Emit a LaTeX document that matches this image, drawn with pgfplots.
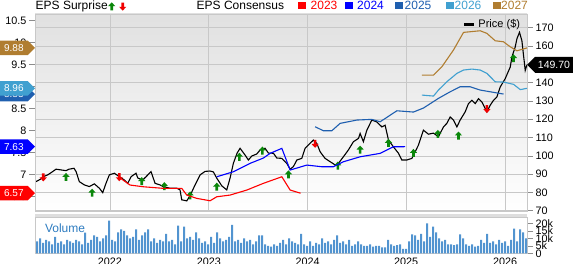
\documentclass[border=0pt]{standalone}
\usepackage{fontspec}
\setmainfont{Liberation Sans}
\usepackage{pgfplots}
\pgfplotsset{compat=1.18}
\usetikzlibrary{shapes.symbols}

\definecolor{c2023}{HTML}{FF0000}
\definecolor{c2024}{HTML}{0000FF}
\definecolor{c2025}{HTML}{1F5FAF}
\definecolor{c2026}{HTML}{40A0D0}
\definecolor{c2027}{HTML}{B07D30}
\definecolor{upg}{HTML}{0A870A}
\definecolor{dnr}{HTML}{F00000}
\definecolor{gridc}{HTML}{C8C8C8}
\definecolor{volc}{HTML}{5294D0}
\definecolor{vollab}{HTML}{2E7CC0}

\pgfdeclareplotmark{uparr}{%
  \pgfpathmoveto{\pgfpoint{0bp}{4.5bp}}%
  \pgfpathlineto{\pgfpoint{3.6bp}{0.6bp}}%
  \pgfpathlineto{\pgfpoint{1.3bp}{0.6bp}}%
  \pgfpathlineto{\pgfpoint{1.3bp}{-3.5bp}}%
  \pgfpathlineto{\pgfpoint{-1.3bp}{-3.5bp}}%
  \pgfpathlineto{\pgfpoint{-1.3bp}{0.6bp}}%
  \pgfpathlineto{\pgfpoint{-3.6bp}{0.6bp}}%
  \pgfpathclose\pgfusepathqfill}
\pgfdeclareplotmark{dnarr}{%
  \pgfpathmoveto{\pgfpoint{0bp}{-4.5bp}}%
  \pgfpathlineto{\pgfpoint{3.6bp}{-0.6bp}}%
  \pgfpathlineto{\pgfpoint{1.3bp}{-0.6bp}}%
  \pgfpathlineto{\pgfpoint{1.3bp}{3.5bp}}%
  \pgfpathlineto{\pgfpoint{-1.3bp}{3.5bp}}%
  \pgfpathlineto{\pgfpoint{-1.3bp}{-0.6bp}}%
  \pgfpathlineto{\pgfpoint{-3.6bp}{-0.6bp}}%
  \pgfpathclose\pgfusepathqfill}

\tikzset{
  tagL/.style={signal, signal to=east, anchor=east, text=white,
    font=\fontsize{10bp}{11bp}\selectfont, minimum height=14.5bp,
    minimum width=35bp, inner sep=1bp, outer sep=0pt},
  tagR/.style={signal, signal to=west, anchor=west, text=white, fill=black,
    font=\fontsize{10.5bp}{11bp}\selectfont, minimum height=16bp,
    minimum width=46bp, inner sep=1bp, outer sep=0pt},
}

\pgfplotstableread{
i v
0 8
1 10
2 7
3 9
4 8
5 6
6 11
7 7
8 8
9 6
10 9
11 8
12 7
13 9
14 8
15 6
16 13.8
17 7
18 9
19 12
20 11
21 8
22 10
23 12
24 21.8
25 9
26 8
27 14
28 16
29 15
30 12
31 10
32 11
33 16
34 9
35 12
36 14
37 16
38 8
39 10
40 7
41 9
42 8
43 13
44 8
45 9
46 6
47 18.4
48 8
49 17.8
50 10
51 11
52 9
53 14
54 10
55 7
56 8
57 6
58 11
59 7
60 14
61 10
62 8
63 9
64 11
65 19
66 8
67 9
68 7
69 10
70 8
71 9
72 6
73 8
74 12
75 12
76 6
77 5
78 4.5
79 6
80 5
81 7
82 9
83 6
84 10
85 8
86 7
87 6
88 13
89 6
90 5
91 8
92 5
93 7
94 6
95 10
96 7
97 8
98 6
99 9
100 12
101 7
102 8
103 6
104 9
105 5
106 6
107 8
108 6
109 5
110 5
111 6
112 4.5
113 5
114 5
115 4
116 4
117 9
118 6
119 5
120 5.5
121 6
122 3
123 3
124 8
125 12.7
126 12
127 9
128 13
129 8
130 20
131 11
132 17.8
133 14
134 10
135 8
136 9
137 6
138 6
139 5.5
140 6
141 12.7
142 10
143 6
144 5
145 6
146 4.5
147 5
148 9
149 7
150 13
151 7
152 8
153 6
154 9
155 7
156 8
157 5
158 9
159 16.4
160 8
161 16
162 14
163 10
}\voltable

\begin{document}
\begin{tikzpicture}
% ---------------- price panel ----------------
\begin{axis}[
  at={(35bp,52.3bp)}, anchor=south west, scale only axis,
  width=492bp, height=197.7bp,
  xmin=2021.24, xmax=2026.223, ymin=69.5, ymax=177.4,
  axis background/.style={top color=black!12, bottom color=white},
  xtick={2022,2023,2024,2025,2026}, xticklabels={},
  ytick={70,80,...,170},
  xmajorgrids, ymajorgrids,
  grid style={gridc, line width=0.6bp},
  axis line style={gridc, line width=0.7bp},
  ytick pos=right, yticklabel pos=right,
  tick align=outside, major tick length=6bp,
  x tick style={draw=none},
  y tick style={black!45, line width=0.6bp},
  yticklabel style={font=\fontsize{10.8bp}{12bp}\selectfont, inner sep=2.5bp},
  /pgf/number format/assume math mode=true,
  clip mode=individual,
]
\addplot[black, line width=1.1bp] coordinates {
(2021.250,85.9) (2021.301,87.4) (2021.324,88.6) (2021.369,89.6) (2021.419,91.4) (2021.453,92.7) (2021.504,92.3) (2021.554,91.9) (2021.585,92.7) (2021.635,93.2) (2021.656,91.4) (2021.689,85.9) (2021.740,84.1) (2021.790,83.2) (2021.841,84.7) (2021.892,82.3) (2021.926,79.9) (2021.959,85.0) (2021.993,89.6) (2022.044,90.5) (2022.094,88.6) (2022.145,86.8) (2022.179,85.0) (2022.213,88.6) (2022.263,90.5) (2022.281,87.9) (2022.331,86.8) (2022.365,88.6) (2022.415,91.4) (2022.456,85.0) (2022.507,84.1) (2022.540,83.2) (2022.608,82.3) (2022.676,82.3) (2022.709,81.4) (2022.726,76.0) (2022.777,75.4) (2022.811,78.3) (2022.861,84.1) (2022.912,89.6) (2022.963,91.5) (2023.013,91.7) (2023.047,91.2) (2023.081,87.8) (2023.132,83.6) (2023.182,81.4) (2023.216,87.9) (2023.249,95.9) (2023.287,101.5) (2023.317,104.1) (2023.368,100.4) (2023.401,97.7) (2023.436,99.9) (2023.486,101.0) (2023.520,103.2) (2023.570,104.1) (2023.604,101.5) (2023.655,101.4) (2023.689,98.8) (2023.740,98.6) (2023.790,95.9) (2023.824,92.7) (2023.857,94.1) (2023.892,97.7) (2023.942,98.6) (2023.976,104.1) (2024.026,106.8) (2024.060,108.6) (2024.094,106.8) (2024.128,102.2) (2024.178,98.6) (2024.229,96.8) (2024.280,95.0) (2024.313,95.9) (2024.364,99.5) (2024.414,103.2) (2024.465,107.7) (2024.516,109.5) (2024.533,112.2) (2024.566,107.7) (2024.601,114.0) (2024.651,119.5) (2024.702,118.5) (2024.753,115.8) (2024.786,116.7) (2024.820,108.6) (2024.870,104.9) (2024.921,101.4) (2024.955,97.7) (2025.006,97.7) (2025.057,98.6) (2025.090,102.2) (2025.124,105.9) (2025.174,114.0) (2025.225,111.8) (2025.276,112.4) (2025.326,110.4) (2025.377,115.8) (2025.411,117.7) (2025.445,121.2) (2025.478,119.5) (2025.513,115.8) (2025.546,119.5) (2025.597,124.0) (2025.630,128.5) (2025.665,130.3) (2025.699,128.5) (2025.732,131.2) (2025.766,129.4) (2025.800,125.8) (2025.817,124.0) (2025.850,127.6) (2025.884,130.3) (2025.918,132.1) (2025.951,137.5) (2026.002,142.1) (2026.053,148.4) (2026.070,153.9) (2026.103,159.3) (2026.121,163.9) (2026.147,167.4) (2026.171,162.9) (2026.205,146.6) (2026.223,149.7)
};
\addplot[only marks, mark=uparr, color=upg] coordinates {
(2021.554,88.2) (2021.818,79.6) (2022.321,85.9) (2022.550,83.2) (2022.811,78.1) (2023.081,82.9) (2023.310,99.2) (2023.543,102.6) (2023.807,89.6) (2024.307,94.4) (2024.533,103.1) (2024.820,106.8) (2025.073,101.3) (2025.320,111.7) (2025.529,110.8) (2026.086,153.0)
};
\addplot[only marks, mark=dnarr, color=dnr] coordinates {
(2021.324,88.5) (2022.094,88.6) (2024.077,106.8) (2025.817,125.8)
};
\draw[black, line width=3.5bp] (axis description cs:0.872,0.947) -- (axis description cs:0.892,0.947);
\node[anchor=west, inner sep=0pt, font=\fontsize{11bp}{12bp}\selectfont] at (axis description cs:0.901,0.947) {Price (\$)};
\coordinate (tp) at (axis cs:2026.223,149.7);
\end{axis}
% ---------------- EPS consensus overlay ----------------
\begin{axis}[
  at={(35bp,52.3bp)}, anchor=south west, scale only axis,
  width=492bp, height=197.7bp,
  xmin=2021.24, xmax=2026.223, ymin=6.149, ymax=10.653,
  axis x line=none, axis y line*=left,
  ytick={6.5,7,7.5,8,8.5,9,9.5,10,10.5},
  axis line style={gridc, line width=0.7bp},
  tick align=outside, major tick length=6bp,
  y tick style={black!45, line width=0.6bp},
  yticklabel style={font=\fontsize{10.8bp}{12bp}\selectfont, inner sep=2.5bp},
  /pgf/number format/assume math mode=true,
]
\addplot[c2023, line width=1.1bp] coordinates {
(2022.084,6.945) (2022.203,6.756) (2022.337,6.717) (2022.540,6.681) (2022.726,6.681) (2022.777,6.528) (2022.878,6.453) (2023.013,6.398) (2023.081,6.489) (2023.216,6.528) (2023.385,6.642) (2023.553,6.795) (2023.740,6.945) (2023.824,6.642) (2023.930,6.570)
};
\addplot[c2024, line width=1.1bp] coordinates {
(2023.081,6.945) (2023.249,7.059) (2023.418,7.250) (2023.553,7.371) (2023.621,7.478) (2023.740,7.592) (2023.824,7.098) (2023.993,7.211) (2024.145,7.173) (2024.262,7.173) (2024.364,7.287) (2024.533,7.400) (2024.736,7.478) (2024.870,7.628) (2024.989,7.630)
};
\addplot[c2025, line width=1.1bp] coordinates {
(2024.077,8.084) (2024.161,7.993) (2024.246,7.993) (2024.330,8.161) (2024.500,8.237) (2024.651,8.252) (2024.736,8.198) (2024.905,8.448) (2025.073,8.419) (2025.174,8.510) (2025.326,8.731) (2025.445,8.881) (2025.546,8.995) (2025.648,8.995) (2025.749,8.920) (2025.850,8.881) (2025.985,8.829)
};
\addplot[c2026, line width=1.1bp] coordinates {
(2025.158,8.806) (2025.276,8.783) (2025.326,8.920) (2025.411,9.109) (2025.513,9.300) (2025.580,9.376) (2025.665,9.398) (2025.749,9.376) (2025.817,9.300) (2025.901,9.109) (2025.985,9.102) (2026.087,9.050) (2026.155,8.930) (2026.223,8.960)
};
\addplot[c2027, line width=1.1bp] coordinates {
(2025.158,9.262) (2025.276,9.262) (2025.361,9.451) (2025.478,9.831) (2025.580,10.234) (2025.749,10.271) (2025.817,10.211) (2025.901,10.043) (2025.985,10.020) (2026.053,9.906) (2026.121,9.815) (2026.223,9.880)
};
\coordinate (t2027) at (axis cs:2021.24,9.88);
\coordinate (t2026) at (axis cs:2021.24,8.96);
\coordinate (t2025) at (axis cs:2021.24,8.83);
\coordinate (t2024) at (axis cs:2021.24,7.63);
\coordinate (t2023) at (axis cs:2021.24,6.57);
\end{axis}
% ---------------- volume panel ----------------
\begin{axis}[
  at={(35bp,10.7bp)}, anchor=south west, scale only axis,
  width=492bp, height=36.3bp,
  xmin=-0.667, xmax=163.33, ymin=0, ymax=24.2,
  ytick={0,5,10,15,20}, yticklabels={0,5k,10k,15k,20k},
  xtick={24.33,57.33,90.17,123,156}, xticklabels={2022,2023,2024,2025,2026},
  ytick pos=right, yticklabel pos=right,
  tick align=outside, major tick length=6bp,
  x tick style={draw=none},
  y tick style={black!45, line width=0.6bp},
  axis line style={gridc, line width=0.7bp},
  yticklabel style={font=\fontsize{10.8bp}{12bp}\selectfont, inner sep=2.5bp},
  xticklabel style={font=\fontsize{10.8bp}{12bp}\selectfont, inner sep=0pt, yshift=2bp},
  /pgf/number format/assume math mode=true,
  clip mode=individual,
]
\addplot[ybar, bar width=2bp, fill=volc, draw=none] table[x=i, y=v] {\voltable};
\draw[black!13, line width=2.3bp] ([yshift=1.5bp]rel axis cs:0,1) -- ([yshift=1.5bp]rel axis cs:1,1);
\node[anchor=west, inner sep=0pt, text=vollab, font=\fontsize{12bp}{13bp}\selectfont] at (axis description cs:0.02,0.683) {Volume};
\end{axis}
% ---------------- value tags ----------------
\node[tagL, fill=c2025] at (t2025) {8.83};
\node[tagL, fill=c2026] at (t2026) {8.96};
\node[tagL, fill=c2027] at (t2027) {9.88};
\node[tagL, fill=c2024] at (t2024) {7.63};
\node[tagL, fill=c2023] at (t2023) {6.57};
\node[tagR] at (tp) {149.70};
% ---------------- top legends ----------------
\node[anchor=base west, inner sep=0pt, font=\fontsize{12bp}{14bp}\selectfont] at (35.5bp,254.5bp) {EPS Surprise};
\fill[upg, shift={(111.7bp,257.2bp)}] (0,4.5bp) -- (3.6bp,0.6bp) -- (1.3bp,0.6bp) -- (1.3bp,-3.5bp) -- (-1.3bp,-3.5bp) -- (-1.3bp,0.6bp) -- (-3.6bp,0.6bp) -- cycle;
\fill[dnr, shift={(122.7bp,257.8bp)}] (0,-4.5bp) -- (3.6bp,-0.6bp) -- (1.3bp,-0.6bp) -- (1.3bp,3.5bp) -- (-1.3bp,3.5bp) -- (-1.3bp,-0.6bp) -- (-3.6bp,-0.6bp) -- cycle;
\node[anchor=base west, inner sep=0pt, font=\fontsize{12bp}{14bp}\selectfont] at (196.5bp,254.5bp) {EPS Consensus};
\fill[c2023] (297.5bp,254.5bp) rectangle ++(8bp,7.5bp);
\node[anchor=base west, inner sep=0pt, text=c2023, font=\fontsize{12bp}{14bp}\selectfont] at (310.5bp,254.5bp) {2023};
\fill[c2024] (344.5bp,254.5bp) rectangle ++(8bp,7.5bp);
\node[anchor=base west, inner sep=0pt, text=c2024, font=\fontsize{12bp}{14bp}\selectfont] at (357bp,254.5bp) {2024};
\fill[c2025] (395bp,254.5bp) rectangle ++(8bp,7.5bp);
\node[anchor=base west, inner sep=0pt, text=c2025, font=\fontsize{12bp}{14bp}\selectfont] at (404.5bp,254.5bp) {2025};
\fill[c2026] (445.5bp,254.5bp) rectangle ++(8bp,7.5bp);
\node[anchor=base west, inner sep=0pt, text=c2026, font=\fontsize{12bp}{14bp}\selectfont] at (454.5bp,254.5bp) {2026};
\fill[c2027] (492.5bp,254.5bp) rectangle ++(8bp,7.5bp);
\node[anchor=base west, inner sep=0pt, text=c2027, font=\fontsize{12bp}{14bp}\selectfont] at (501bp,254.5bp) {2027};
\pgfresetboundingbox
\useasboundingbox (0,0) rectangle (573bp,264bp);
\end{tikzpicture}
\end{document}
